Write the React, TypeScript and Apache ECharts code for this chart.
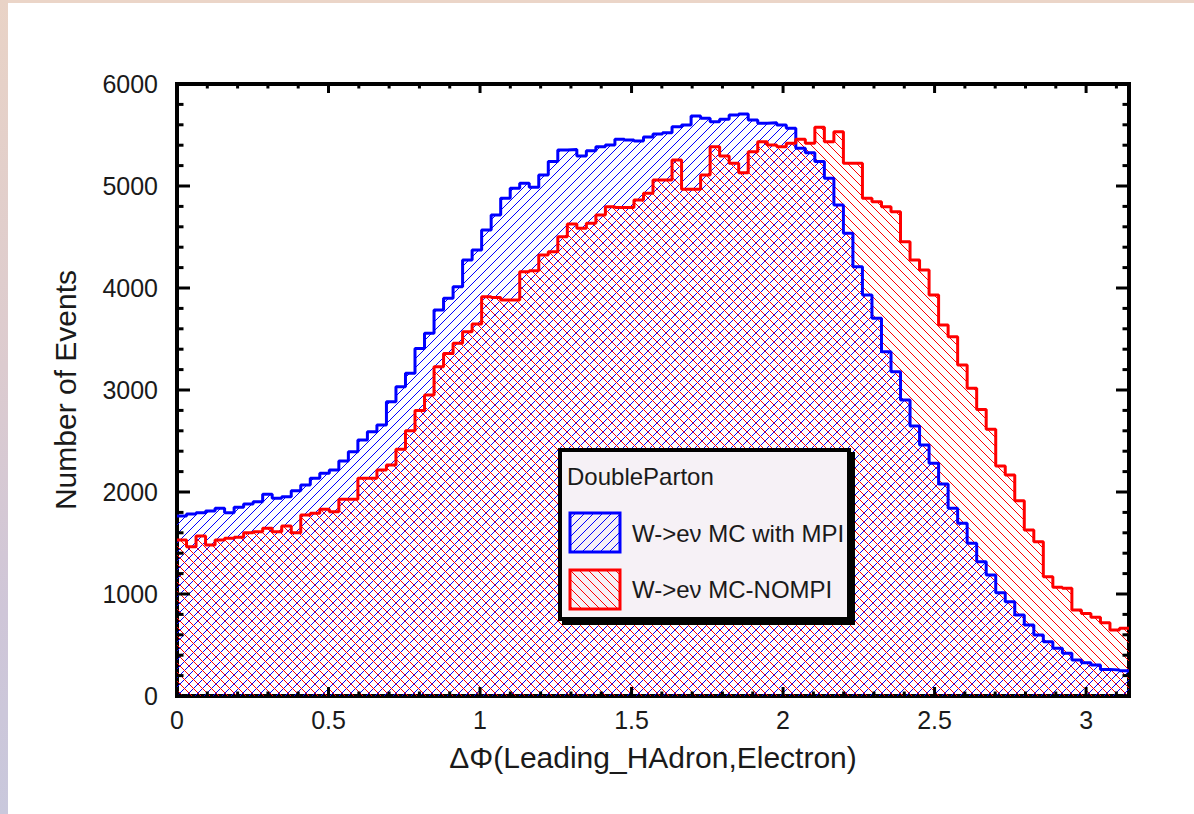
import React, { useEffect, useRef } from "react";
import * as echarts from "echarts";

// ΔΦ histogram, 100 equal bins over [0, π]
const X_MAX = Math.PI;

// W->eν MC with MPI, counts per bin
const mpiCounts = [
  1765, 1784, 1797, 1814, 1840, 1797, 1850, 1882, 1905, 1977,
  1938, 1954, 2013, 2069, 2134, 2183, 2216, 2304, 2395, 2510,
  2591, 2657, 2885, 3033, 3163, 3408, 3556, 3784, 3899, 4013,
  4275, 4373, 4569, 4716, 4879, 4977, 5026, 4987, 5108, 5239,
  5353, 5359, 5294, 5346, 5386, 5402, 5458, 5451, 5440, 5480,
  5510, 5523, 5582, 5598, 5686, 5663, 5631, 5654, 5696, 5706,
  5647, 5615, 5621, 5598, 5566, 5369, 5327, 5239, 5075, 4814,
  4536, 4209, 3931, 3703, 3376, 3180, 2902, 2647, 2461, 2281,
  2078, 1840, 1693, 1497, 1317, 1186, 1013, 925, 794, 696,
  598, 533, 467, 418, 353, 327, 304, 261, 255, 248,
];

// W->eν MC-NOMPI, counts per bin
const nompiCounts = [
  1529, 1464, 1569, 1480, 1529, 1546, 1556, 1601, 1611, 1644,
  1611, 1667, 1601, 1775, 1791, 1830, 1807, 1928, 1928, 2134,
  2134, 2216, 2265, 2420, 2600, 2800, 2950, 3229, 3359, 3458,
  3572, 3647, 3915, 3908, 3882, 3882, 4160, 4170, 4324, 4356,
  4503, 4627, 4585, 4634, 4716, 4797, 4790, 4790, 4863, 4930,
  5059, 5059, 5255, 4967, 4967, 5108, 5386, 5294, 5222, 5131,
  5337, 5435, 5402, 5386, 5418, 5458, 5418, 5575, 5435, 5533,
  5222, 5222, 4879, 4846, 4797, 4748, 4454, 4275, 4176, 3931,
  3637, 3523, 3245, 3016, 2810, 2614, 2255, 2167, 1915, 1627,
  1513, 1170, 1065, 1056, 843, 810, 771, 719, 647, 663,
];

const xTicks = [0, 0.5, 1, 1.5, 2, 2.5, 3];
const yTicks = [0, 1000, 2000, 3000, 4000, 5000, 6000];
const xMinorStep = 0.1;
const yMinorStep = 200;

const seriesNames = ["W->eν MC with MPI", "W->eν MC-NOMPI"];
const legendTitle = "DoubleParton";
const xTitle = "ΔΦ(Leading_HAdron,Electron)";
const yTitle = "Number of Events";

const FONT = "'Liberation Sans', Arial, Helvetica, sans-serif";
const BLUE = "#0000ff";
const RED = "#ff0000";

// step outline: left bin edges plus closing point at the upper edge
function toSteps(counts: number[]) {
  const w = X_MAX / counts.length;
  const pts = counts.map((v, i) => [i * w, v]);
  pts.push([X_MAX, counts[counts.length - 1]]);
  return pts;
}

// diagonal hatch tile ("/" or "\") as a small svg image
function hatch(color: string, dir: "/" | "\\") {
  const s = 9;
  const d =
    dir === "/"
      ? `M-1,1 L1,-1 M0,${s} L${s},0 M${s - 1},${s + 1} L${s + 1},${s - 1}`
      : `M-1,${s - 1} L1,${s + 1} M0,0 L${s},${s} M${s - 1},-1 L${s + 1},1`;
  const svg =
    `<svg xmlns="http://www.w3.org/2000/svg" width="${s}" height="${s}" viewBox="0 0 ${s} ${s}">` +
    `<path d="${d}" stroke="${color}" stroke-width="1" fill="none" shape-rendering="crispEdges"/></svg>`;
  return {
    image: "data:image/svg+xml;charset=utf-8," + encodeURIComponent(svg),
    repeat: "repeat",
    imageWidth: s,
    imageHeight: s,
  };
}

// values between two limits at a fixed step, excluding the major ticks
function minorValues(lo: number, hi: number, step: number, majors: number[]) {
  const out: number[] = [];
  for (let k = 0; lo + k * step <= hi + 1e-9; k++) {
    const v = lo + k * step;
    if (!majors.some((m) => Math.abs(m - v) < 1e-9)) out.push(v);
  }
  return out;
}

export default function App() {
  const ref = useRef<HTMLDivElement>(null);

  useEffect(() => {
    if (!ref.current) return;
    const chart = echarts.init(ref.current, null, { renderer: "svg" });
    const blueHatch = hatch(BLUE, "/");
    const redHatch = hatch(RED, "\\");

    const gridBox = { left: 177, right: 65, top: 84, bottom: 118 };
    const frameLine = { show: true, onZero: false, lineStyle: { color: "#000", width: 4, cap: "square" } };
    const noTick = { show: false };
    const labelStyle = { color: "#1a1a1a", fontSize: 25, fontFamily: FONT };
    const yMin = yTicks[0];
    const yMax = yTicks[yTicks.length - 1];

    const blueSteps = toSteps(mpiCounts);
    const redSteps = toSteps(nompiCounts);

    chart.setOption({
      animation: false,
      backgroundColor: "transparent",
      grid: gridBox,
      xAxis: [
        {
          type: "value",
          min: 0,
          max: X_MAX,
          interval: 0.5,
          position: "bottom",
          splitLine: { show: false },
          axisLine: frameLine,
          axisTick: noTick,
          axisLabel: {
            ...labelStyle,
            margin: 11,
            formatter: (v: number) => (xTicks.some((t) => Math.abs(t - v) < 1e-9) ? String(v) : ""),
          },
          name: xTitle,
          nameLocation: "middle",
          nameGap: 46,
          nameTextStyle: { color: "#1a1a1a", fontSize: 30, fontFamily: FONT },
        },
        {
          type: "value",
          min: 0,
          max: X_MAX,
          position: "top",
          splitLine: { show: false },
          axisLine: frameLine,
          axisTick: noTick,
          axisLabel: { show: false },
        },
      ],
      yAxis: [
        {
          type: "value",
          min: yMin,
          max: yMax,
          interval: 1000,
          position: "left",
          splitLine: { show: false },
          axisLine: frameLine,
          axisTick: noTick,
          axisLabel: { ...labelStyle, margin: 19, formatter: (v: number) => String(v) },
          name: yTitle,
          nameLocation: "middle",
          nameGap: 97,
          nameRotate: 90,
          nameTextStyle: { color: "#1a1a1a", fontSize: 30, fontFamily: FONT },
        },
        {
          type: "value",
          min: yMin,
          max: yMax,
          position: "right",
          splitLine: { show: false },
          axisLine: frameLine,
          axisTick: noTick,
          axisLabel: { show: false },
        },
      ],
      series: [
        {
          name: seriesNames[0],
          type: "line",
          step: "end",
          data: blueSteps,
          symbol: "none",
          lineStyle: { width: 0, opacity: 0 },
          areaStyle: { color: blueHatch, opacity: 1 },
          z: 1,
        },
        {
          name: seriesNames[1],
          type: "line",
          step: "end",
          data: redSteps,
          symbol: "none",
          lineStyle: { width: 0, opacity: 0 },
          areaStyle: { color: redHatch, opacity: 1 },
          z: 2,
        },
        {
          name: seriesNames[0],
          type: "line",
          step: "end",
          data: blueSteps,
          symbol: "none",
          lineStyle: { width: 3, color: BLUE },
          z: 3,
        },
        {
          name: seriesNames[1],
          type: "line",
          step: "end",
          data: redSteps,
          symbol: "none",
          lineStyle: { width: 3, color: RED },
          z: 4,
        },
      ],
    });

    // inside ticks on all four sides of the frame, placed through the axis scales
    const px = (v: number) => chart.convertToPixel({ xAxisIndex: 0 }, v) as number;
    const py = (v: number) => chart.convertToPixel({ yAxisIndex: 0 }, v) as number;
    const xL = px(0), xR = px(X_MAX), yB = py(yMin), yT = py(yMax);
    const tickStyle = { stroke: "#000", lineWidth: 3 };
    const ticks: any[] = [];
    const addX = (v: number, len: number) => {
      const x = px(v);
      ticks.push({ type: "line", z: 50, shape: { x1: x, y1: yB, x2: x, y2: yB - len }, style: tickStyle });
      ticks.push({ type: "line", z: 50, shape: { x1: x, y1: yT, x2: x, y2: yT + len }, style: tickStyle });
    };
    const addY = (v: number, len: number) => {
      const y = py(v);
      ticks.push({ type: "line", z: 50, shape: { x1: xL, y1: y, x2: xL + len, y2: y }, style: tickStyle });
      ticks.push({ type: "line", z: 50, shape: { x1: xR, y1: y, x2: xR - len, y2: y }, style: tickStyle });
    };
    xTicks.forEach((v) => addX(v, 9));
    minorValues(0, X_MAX, xMinorStep, xTicks).forEach((v) => addX(v, 4.5));
    yTicks.forEach((v) => addY(v, 13));
    minorValues(yMin, yMax, yMinorStep, yTicks).forEach((v) => addY(v, 6.5));

    // legend box with drop shadow
    const lx = 558, ly = 448, lw = 293, lh = 173;
    const textStyle = { fill: "#1a1a1a", fontSize: 24, fontFamily: FONT, verticalAlign: "middle" };
    const legend = [
      { type: "rect", z: 100, shape: { x: lx + 4, y: ly + 4, width: lw, height: lh }, style: { fill: "#000" } },
      {
        type: "rect",
        z: 101,
        shape: { x: lx + 2, y: ly + 2, width: lw - 4, height: lh - 4 },
        style: { fill: "#f6f1f6", stroke: "#000", lineWidth: 4 },
      },
      { type: "text", z: 102, x: 567, y: 476, style: { ...textStyle, text: legendTitle } },
      {
        type: "rect",
        z: 102,
        shape: { x: 570, y: 513, width: 50, height: 39 },
        style: { fill: blueHatch, stroke: BLUE, lineWidth: 3 },
      },
      { type: "text", z: 102, x: 632, y: 533, style: { ...textStyle, text: seriesNames[0] } },
      {
        type: "rect",
        z: 102,
        shape: { x: 570, y: 570, width: 50, height: 39 },
        style: { fill: redHatch, stroke: RED, lineWidth: 3 },
      },
      { type: "text", z: 102, x: 632, y: 589, style: { ...textStyle, text: seriesNames[1] } },
    ];

    chart.setOption({ graphic: [...ticks, ...legend] });

    return () => chart.dispose();
  }, []);

  return (
    <div style={{ position: "fixed", left: 0, top: 0, width: 1194, height: 814, background: "#ffffff", overflow: "hidden" }}>
      <div style={{ position: "absolute", left: 0, top: 0, width: 1194, height: 3, background: "#ebd5c8" }} />
      <div
        style={{
          position: "absolute",
          left: 0,
          top: 0,
          width: 8,
          height: 814,
          background: "linear-gradient(180deg, #e9d3c6 0%, #dccbcf 45%, #cfc6d8 75%, #c9c8dc 100%)",
        }}
      />
      <div ref={ref} style={{ position: "absolute", left: 0, top: 0, width: 1194, height: 814 }} />
    </div>
  );
}
